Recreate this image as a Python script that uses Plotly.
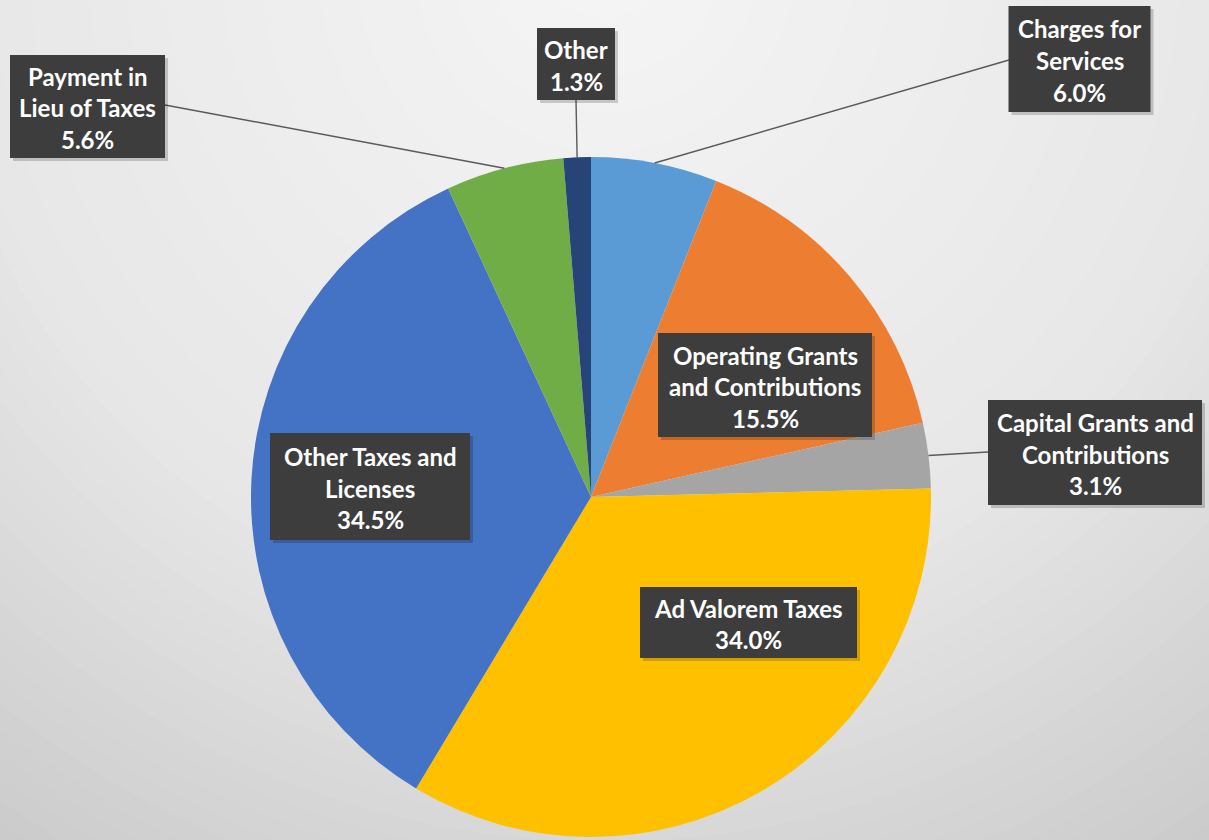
import math
import plotly.graph_objects as go

# ---- data ----
categories = ["Charges for Services", "Operating Grants and Contributions",
              "Capital Grants and Contributions", "Ad Valorem Taxes",
              "Other Taxes and Licenses", "Payment in Lieu of Taxes", "Other"]
values = [6.0, 15.5, 3.1, 34.0, 34.5, 5.6, 1.3]
label_lines = [["Charges for", "Services"],
               ["Operating Grants", "and Contributions"],
               ["Capital Grants and", "Contributions"],
               ["Ad Valorem Taxes"],
               ["Other Taxes and", "Licenses"],
               ["Payment in", "Lieu of Taxes"],
               ["Other"]]
colors = ["#5B9BD5", "#ED7D31", "#A5A5A5", "#FFC000", "#4472C4", "#70AD47", "#264478"]

# ---- layout constants (pixels) ----
W, H = 1209, 840
CX, CY, R = 591, 497, 340
# label boxes: center x, center y, width, height
boxes = [(1079.5, 59, 142, 106), (765, 385, 214, 104), (1095, 452.5, 214, 105),
         (748.5, 622.5, 217, 71), (370, 486.5, 200, 107), (87.5, 106.5, 155, 103),
         (576, 64, 78, 72)]
LINE_H = 31.5
# leader line targets (box edge point) for outside labels
leaders = {0: (1009, 60), 2: (988, 452), 5: (165, 105), 6: (576, 100)}

def px(x):
    return x / W

def py(y):
    return 1 - y / H

fig = go.Figure(go.Pie(
    labels=categories, values=values, sort=False, direction="clockwise", rotation=0,
    marker=dict(colors=colors, line=dict(width=0)),
    textinfo="none", hoverinfo="label+percent", showlegend=False,
    domain=dict(x=[px(CX - R), px(CX + R)], y=[py(CY + R), py(CY - R)]),
))

shapes = []
# radial background gradient
gcx, gcy = 605, -40
stops = [(0, 245), (650, 231), (1150, 198)]
def gray_at(d):
    for (d0, g0), (d1, g1) in zip(stops, stops[1:]):
        if d <= d1:
            return g0 + (g1 - g0) * (d - d0) / (d1 - d0)
    return stops[-1][1]
N = 60
for i in range(N):
    d = 1150 * (N - i) / N
    g = int(round(gray_at(d)))
    shapes.append(dict(type="circle", xref="paper", yref="paper", layer="below",
                       x0=px(gcx - d), x1=px(gcx + d), y0=py(gcy + d), y1=py(gcy - d),
                       fillcolor=f"rgb({g},{g},{g})", line=dict(width=0)))

# leader lines from slice mid-angle on the edge
total = sum(values)
cum = 0
for i, v in enumerate(values):
    mid = (cum + v / 2) / total * 2 * math.pi
    cum += v
    if i in leaders:
        ex = CX + R * math.sin(mid)
        ey = CY - R * math.cos(mid)
        tx, ty = leaders[i]
        shapes.append(dict(type="line", xref="paper", yref="paper", layer="above",
                           x0=px(ex), y0=py(ey), x1=px(tx), y1=py(ty),
                           line=dict(color="#5a5a5a", width=1.4)))

annotations = []
for (bx, by, bw, bh), lines, v in zip(boxes, label_lines, values):
    # soft shadow
    shapes.append(dict(type="rect", xref="paper", yref="paper", layer="above",
                       x0=px(bx - bw / 2 + 3), x1=px(bx + bw / 2 + 3),
                       y0=py(by + bh / 2 + 3), y1=py(by - bh / 2 + 3),
                       fillcolor="rgba(0,0,0,0.18)", line=dict(width=0)))
    shapes.append(dict(type="rect", xref="paper", yref="paper", layer="above",
                       x0=px(bx - bw / 2), x1=px(bx + bw / 2),
                       y0=py(by + bh / 2), y1=py(by - bh / 2),
                       fillcolor="#3d3d3d", line=dict(width=0)))
    all_lines = lines + [f"{v:.1f}%"]
    n = len(all_lines)
    for k, t in enumerate(all_lines):
        ly = by + 1.5 + (k - (n - 1) / 2) * LINE_H
        annotations.append(dict(
            x=px(bx), y=py(ly), xref="paper", yref="paper", xanchor="center", yanchor="middle",
            text=t, showarrow=False, align="center",
            font=dict(family="Lato", size=24, color="white", weight=700),
        ))

fig.update_layout(
    width=W, height=H, margin=dict(l=0, r=0, t=0, b=0),
    paper_bgcolor="#e0e0e0", plot_bgcolor="#e0e0e0",
    shapes=shapes, annotations=annotations,
)
fig.write_html("out.html")
